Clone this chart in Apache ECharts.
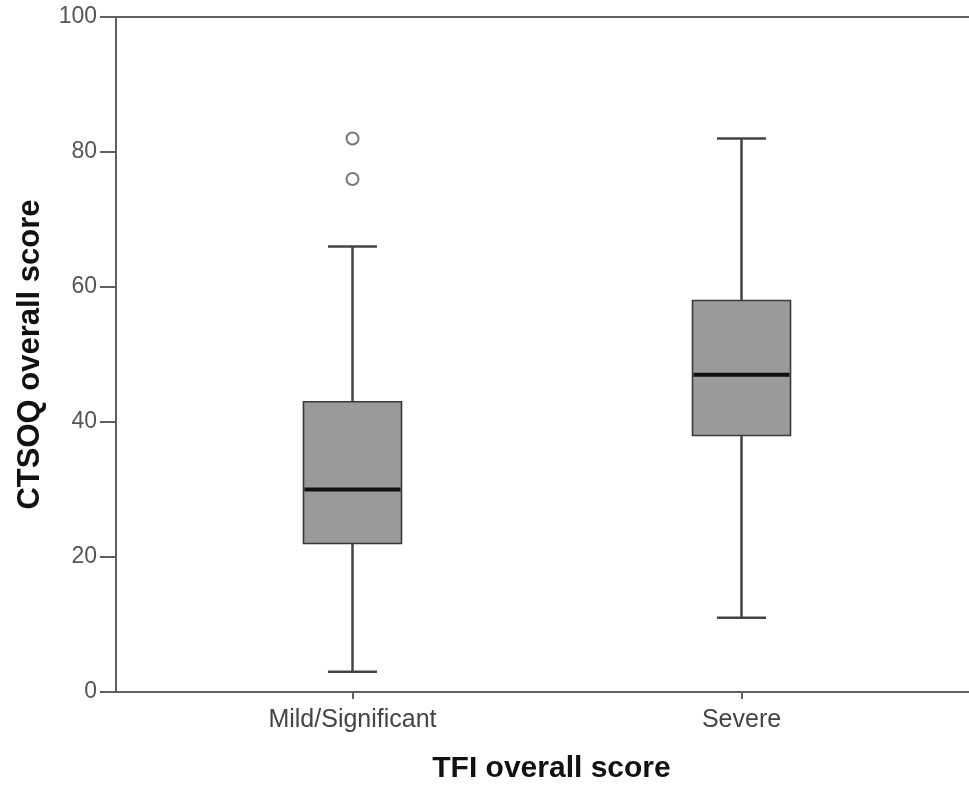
<!DOCTYPE html>
<html>
<head>
<meta charset="utf-8">
<script src="https://cdn.jsdelivr.net/npm/echarts@6/dist/echarts.min.js"></script>
<style>
html,body{margin:0;padding:0;background:#fff;}
#chart{width:969px;height:789px;}
</style>
</head>
<body>
<div id="chart"></div>
<script>
// Data
const categories = ['Mild/Significant', 'Severe'];
const whiskerLow = [3, 11];
const q1Values = [22, 38];
const medians = [30, 47];
const q3Values = [43, 58];
const whiskerHigh = [66, 82];
const outliers = [[0, 82], [0, 76]];
const yTicks = [0, 20, 40, 60, 80, 100];

const boxData = categories.map((c, i) => [i, whiskerLow[i], q1Values[i], medians[i], q3Values[i], whiskerHigh[i]]);

const FONT = "'Liberation Sans', Arial, sans-serif";
const AXIS_COLOR = '#5f5f5f';

const chart = echarts.init(document.getElementById('chart'));
chart.setOption({
  backgroundColor: '#ffffff',
  animation: false,
  grid: [
    { left: 116, right: -4, top: 17, bottom: 97, containLabel: false, outerBoundsMode: 'none' },
    { left: 158, right: 33, top: 17, bottom: 97, containLabel: false, outerBoundsMode: 'none' }
  ],
  xAxis: [
    {
      gridIndex: 0, type: 'value', min: 0, max: 1, position: 'bottom',
      axisLine: { show: true, lineStyle: { color: AXIS_COLOR, width: 2 } },
      axisTick: { show: false }, axisLabel: { show: false }, splitLine: { show: false },
      name: 'TFI overall score', nameLocation: 'middle', nameGap: 62,
      nameTextStyle: { fontFamily: FONT, fontSize: 30, fontWeight: 'bold', color: '#111', padding: [0, 0, 0, 14] }
    },
    {
      gridIndex: 1, type: 'category', data: categories, position: 'bottom',
      axisLine: { show: false },
      axisTick: { show: true, alignWithLabel: true, length: 7, lineStyle: { color: AXIS_COLOR, width: 2 } },
      axisLabel: { fontFamily: FONT, fontSize: 25, color: '#444', margin: 16 },
      splitLine: { show: false }
    },
    {
      gridIndex: 0, type: 'value', min: 0, max: 1, position: 'top',
      axisLine: { show: true, lineStyle: { color: AXIS_COLOR, width: 2 } },
      axisTick: { show: false }, axisLabel: { show: false }, splitLine: { show: false }
    }
  ],
  yAxis: [
    {
      gridIndex: 0, type: 'value', min: yTicks[0], max: yTicks[yTicks.length - 1], interval: yTicks[1] - yTicks[0],
      axisLine: { show: true, lineStyle: { color: AXIS_COLOR, width: 2 } },
      axisTick: { show: true, length: 16, lineStyle: { color: AXIS_COLOR, width: 2 } },
      axisLabel: { fontFamily: FONT, fontSize: 23, color: '#555', margin: 19 },
      splitLine: { show: false },
      name: 'CTSOQ overall score', nameLocation: 'middle', nameGap: 70,
      nameTextStyle: { fontFamily: FONT, fontSize: 31, fontWeight: 'bold', color: '#111' }
    },
    {
      gridIndex: 1, type: 'value', min: yTicks[0], max: yTicks[yTicks.length - 1], show: false
    }
  ],
  series: [
    {
      type: 'custom',
      xAxisIndex: 1, yAxisIndex: 1,
      data: boxData,
      renderItem: function (params, api) {
        const x = api.value(0);
        const lo = api.coord([x, api.value(1)]);
        const q1 = api.coord([x, api.value(2)]);
        const med = api.coord([x, api.value(3)]);
        const q3 = api.coord([x, api.value(4)]);
        const hi = api.coord([x, api.value(5)]);
        const band = api.size([1, 0])[0];
        const bw = band * 0.252;
        const cw = bw / 2;
        const cx = lo[0];
        const whisk = { stroke: '#444', lineWidth: 2.5 };
        return {
          type: 'group',
          children: [
            { type: 'line', shape: { x1: cx, y1: hi[1], x2: cx, y2: q3[1] }, style: whisk },
            { type: 'line', shape: { x1: cx, y1: lo[1], x2: cx, y2: q1[1] }, style: whisk },
            { type: 'line', shape: { x1: cx - cw / 2, y1: hi[1], x2: cx + cw / 2, y2: hi[1] }, style: whisk },
            { type: 'line', shape: { x1: cx - cw / 2, y1: lo[1], x2: cx + cw / 2, y2: lo[1] }, style: whisk },
            { type: 'rect', shape: { x: cx - bw / 2, y: q3[1], width: bw, height: q1[1] - q3[1] },
              style: { fill: '#9a9a9a', stroke: '#3a3a3a', lineWidth: 1.6 } },
            { type: 'line', shape: { x1: cx - bw / 2 + 1, y1: med[1], x2: cx + bw / 2 - 1, y2: med[1] },
              style: { stroke: '#111', lineWidth: 4 } }
          ]
        };
      }
    },
    {
      type: 'scatter',
      xAxisIndex: 1, yAxisIndex: 1,
      data: outliers,
      symbol: 'emptyCircle',
      symbolSize: 12,
      itemStyle: { color: '#555', borderColor: '#555', borderWidth: 2 }
    }
  ]
});
</script>
</body>
</html>
